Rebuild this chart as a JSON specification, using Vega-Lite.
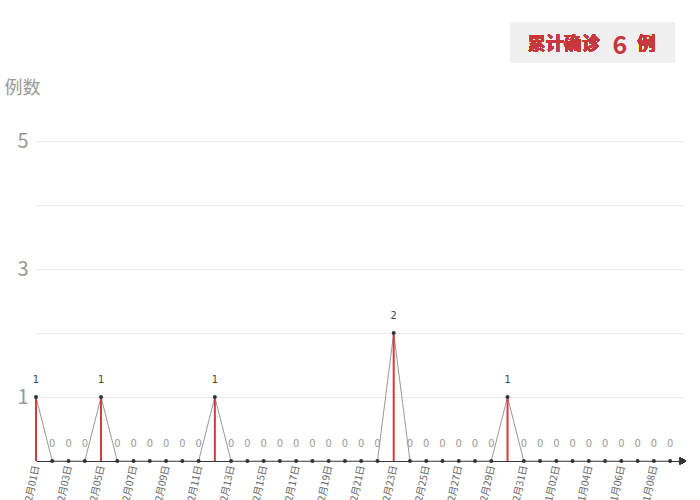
{
  "$schema": "https://vega.github.io/schema/vega-lite/v6.json",
  "width": 647,
  "height": 320,
  "autosize": {"type": "none"},
  "padding": {"left": 36, "top": 141, "right": 17, "bottom": 39},
  "background": "white",
  "config": {"view": {"stroke": null}, "font": "Noto Sans CJK SC"},
  "data": {
    "values": [
      {"date": "2022-12-01", "cases": 1}, {"date": "2022-12-02", "cases": 0},
      {"date": "2022-12-03", "cases": 0}, {"date": "2022-12-04", "cases": 0},
      {"date": "2022-12-05", "cases": 1}, {"date": "2022-12-06", "cases": 0},
      {"date": "2022-12-07", "cases": 0}, {"date": "2022-12-08", "cases": 0},
      {"date": "2022-12-09", "cases": 0}, {"date": "2022-12-10", "cases": 0},
      {"date": "2022-12-11", "cases": 0}, {"date": "2022-12-12", "cases": 1},
      {"date": "2022-12-13", "cases": 0}, {"date": "2022-12-14", "cases": 0},
      {"date": "2022-12-15", "cases": 0}, {"date": "2022-12-16", "cases": 0},
      {"date": "2022-12-17", "cases": 0}, {"date": "2022-12-18", "cases": 0},
      {"date": "2022-12-19", "cases": 0}, {"date": "2022-12-20", "cases": 0},
      {"date": "2022-12-21", "cases": 0}, {"date": "2022-12-22", "cases": 0},
      {"date": "2022-12-23", "cases": 2}, {"date": "2022-12-24", "cases": 0},
      {"date": "2022-12-25", "cases": 0}, {"date": "2022-12-26", "cases": 0},
      {"date": "2022-12-27", "cases": 0}, {"date": "2022-12-28", "cases": 0},
      {"date": "2022-12-29", "cases": 0}, {"date": "2022-12-30", "cases": 1},
      {"date": "2022-12-31", "cases": 0}, {"date": "2023-01-01", "cases": 0},
      {"date": "2023-01-02", "cases": 0}, {"date": "2023-01-03", "cases": 0},
      {"date": "2023-01-04", "cases": 0}, {"date": "2023-01-05", "cases": 0},
      {"date": "2023-01-06", "cases": 0}, {"date": "2023-01-07", "cases": 0},
      {"date": "2023-01-08", "cases": 0}, {"date": "2023-01-09", "cases": 0}
    ]
  },
  "encoding": {
    "x": {
      "field": "date",
      "type": "temporal",
      "scale": {
        "type": "utc",
        "domain": [
          {"year": 2022, "month": 12, "date": 1, "utc": true},
          {"year": 2023, "month": 1, "date": 9, "hours": 19, "utc": true}
        ]
      },
      "axis": {
        "title": null,
        "values": [
          {"year": 2022, "month": 12, "date": 1, "utc": true},
          {"year": 2022, "month": 12, "date": 3, "utc": true},
          {"year": 2022, "month": 12, "date": 5, "utc": true},
          {"year": 2022, "month": 12, "date": 7, "utc": true},
          {"year": 2022, "month": 12, "date": 9, "utc": true},
          {"year": 2022, "month": 12, "date": 11, "utc": true},
          {"year": 2022, "month": 12, "date": 13, "utc": true},
          {"year": 2022, "month": 12, "date": 15, "utc": true},
          {"year": 2022, "month": 12, "date": 17, "utc": true},
          {"year": 2022, "month": 12, "date": 19, "utc": true},
          {"year": 2022, "month": 12, "date": 21, "utc": true},
          {"year": 2022, "month": 12, "date": 23, "utc": true},
          {"year": 2022, "month": 12, "date": 25, "utc": true},
          {"year": 2022, "month": 12, "date": 27, "utc": true},
          {"year": 2022, "month": 12, "date": 29, "utc": true},
          {"year": 2022, "month": 12, "date": 31, "utc": true},
          {"year": 2023, "month": 1, "date": 2, "utc": true},
          {"year": 2023, "month": 1, "date": 4, "utc": true},
          {"year": 2023, "month": 1, "date": 6, "utc": true},
          {"year": 2023, "month": 1, "date": 8, "utc": true}
        ],
        "format": "%m月%d日",
        "labelAngle": -78,
        "labelFontSize": 10,
        "labelColor": "#666",
        "labelPadding": 4,
        "ticks": false,
        "grid": false,
        "domainColor": "#333",
        "domainWidth": 1,
        "labelBound": false,
        "labelOverlap": false
      }
    }
  },
  "layer": [
    {
      "mark": {"type": "rect", "color": "#f0f0f0", "clip": false},
      "encoding": {
        "x": {"datum": {"year": 2022, "month": 12, "date": 30, "hours": 4, "utc": true}, "type": "temporal"},
        "x2": {"datum": {"year": 2023, "month": 1, "date": 9, "hours": 7, "utc": true}},
        "y": {"datum": 6.86, "type": "quantitative"},
        "y2": {"datum": 6.22}
      }
    },
    {
      "mark": {"type": "text", "text": "累计确诊", "align": "left", "baseline": "middle", "fontSize": 18, "fontWeight": "bold", "color": "#c8373b"},
      "encoding": {
        "x": {"datum": {"year": 2022, "month": 12, "date": 31, "hours": 6, "utc": true}, "type": "temporal"},
        "y": {"datum": 6.5, "type": "quantitative"}
      }
    },
    {
      "transform": [
        {"joinaggregate": [{"op": "sum", "field": "cases", "as": "total"}]},
        {"window": [{"op": "row_number", "as": "rn"}]},
        {"filter": "datum.rn == 1"}
      ],
      "mark": {"type": "text", "align": "center", "baseline": "middle", "fontSize": 25, "fontWeight": "bold", "color": "#c8373b", "dy": 1},
      "encoding": {
        "x": {"datum": {"year": 2023, "month": 1, "date": 5, "hours": 22, "utc": true}, "type": "temporal"},
        "y": {"datum": 6.5, "type": "quantitative"},
        "text": {"field": "total", "type": "quantitative"}
      }
    },
    {
      "mark": {"type": "text", "text": "例", "align": "left", "baseline": "middle", "fontSize": 18, "fontWeight": "bold", "color": "#c8373b"},
      "encoding": {
        "x": {"datum": {"year": 2023, "month": 1, "date": 7, "utc": true}, "type": "temporal"},
        "y": {"datum": 6.5, "type": "quantitative"}
      }
    },
    {
      "mark": {"type": "line", "color": "#999", "strokeWidth": 1},
      "encoding": {
        "y": {
          "field": "cases",
          "type": "quantitative",
          "scale": {"domain": [0, 5]},
          "axis": {
            "values": [1, 2, 3, 4, 5],
            "format": "d",
            "labelExpr": "datum.value % 2 == 1 ? datum.label : ''",
            "grid": true,
            "gridColor": "#ebebeb",
            "domain": false,
            "ticks": false,
            "labelFontSize": 20,
            "labelColor": "#999",
            "labelPadding": 8,
            "title": "例数",
            "titleAngle": 0,
            "titleAlign": "left",
            "titleBaseline": "middle",
            "titleX": -32,
            "titleY": -53,
            "titleFontSize": 18,
            "titleFontWeight": "normal",
            "titleColor": "#999"
          }
        }
      }
    },
    {
      "transform": [{"filter": "datum.cases > 0"}],
      "mark": {"type": "rule", "color": "#d23a3f", "strokeWidth": 2},
      "encoding": {
        "y": {"field": "cases", "type": "quantitative"},
        "y2": {"datum": 0}
      }
    },
    {
      "mark": {"type": "point", "filled": true, "color": "#333", "size": 16, "opacity": 1},
      "encoding": {
        "y": {"field": "cases", "type": "quantitative"}
      }
    },
    {
      "mark": {"type": "text", "baseline": "bottom", "dy": -12, "fontSize": 11, "font": "DejaVu Sans Condensed"},
      "encoding": {
        "y": {"field": "cases", "type": "quantitative"},
        "text": {"field": "cases", "type": "quantitative"},
        "color": {"condition": {"test": "datum.cases > 0", "value": "#444"}, "value": "#999"}
      }
    },
    {
      "mark": {"type": "point", "shape": "triangle-right", "filled": true, "color": "#333", "size": 50, "opacity": 1, "clip": false},
      "encoding": {
        "x": {"datum": {"year": 2023, "month": 1, "date": 9, "hours": 19, "utc": true}, "type": "temporal"},
        "y": {"datum": 0, "type": "quantitative"}
      }
    }
  ]
}
